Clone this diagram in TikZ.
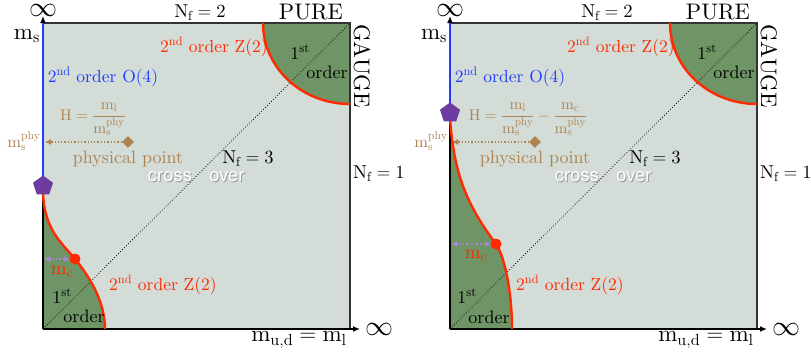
\RequirePackage{fix-cm}
\documentclass[tikz,border=0pt]{standalone}
\usepackage{amsmath}
\usepackage{fontspec}
\setmainfont{lmroman10}[Extension=.otf, UprightFont=*-regular, BoldFont=*-bold, ItalicFont=*-italic, BoldItalicFont=*-bolditalic]
\newfontfamily\crossfont{TeX Gyre Heros}
\usetikzlibrary{shapes.geometric,arrows.meta}
\definecolor{bgc}{HTML}{D3DCD7}
\definecolor{grn}{HTML}{6F9466}
\definecolor{redc}{HTML}{FF2A00}
\definecolor{bluec}{HTML}{1E3CFF}
\definecolor{brn}{HTML}{AE8351}
\definecolor{purp}{HTML}{6E3CA0}
\definecolor{lav}{HTML}{B482E6}
\newcommand{\fsz}[1]{\fontsize{#1}{#1}\selectfont}
\tikzset{
  lbl/.style={inner sep=0pt, font=\fsz{17.5}},
  nfl/.style={inner sep=0pt, font=\fsz{18.6}},
  ordl/.style={inner sep=0pt, font=\fsz{18}},
  bigl/.style={inner sep=0pt, font=\fsz{22.5}},
  axl/.style={inner sep=0pt, font=\fsz{23}},
  infl/.style={inner sep=0pt, font=\fsz{28}},
  redl/.style={lbl, text=redc},
  bluel/.style={lbl, text=bluec},
  brnl/.style={inner sep=0pt, font=\fsz{15.5}, text=brn},
  crossl/.style={inner sep=0pt, font=\fsz{18.5}\crossfont, text=white},
  crossshadow/.style={inner sep=0pt, font=\fsz{18.5}\crossfont, text=black!40},
  axisline/.style={line width=1.4pt, -{Latex[length=7pt,width=6pt]}},
  edgeline/.style={line width=1.2pt, black!80},
  diagline/.style={dotted, line width=0.8pt},
  redline/.style={line width=2.4pt, redc},
  blueline/.style={line width=2.6pt, bluec},
  penta/.style={regular polygon, regular polygon sides=5, fill=purp, minimum size=21pt, inner sep=0pt},
  rdot/.style={circle, fill=redc, minimum size=11pt, inner sep=0pt},
  diam/.style={diamond, fill=brn, minimum size=12pt, inner sep=0pt},
  brnarrow/.style={dotted, line width=1.3pt, brn, -{Latex[length=6pt,width=6pt]}},
  mcarrow/.style={dotted, line width=1.3pt, lav, {Latex[length=5pt,width=6pt]}-{Latex[length=5pt,width=6pt]}},
}
\newcommand{\panelcommon}{%
  \fill[bgc] (43,23) rectangle (350,329);
  \fill[grn] (263,23) .. controls (263,68) and (302,104) .. (350,104) -- (350,23) -- cycle;
  \coordinate (o) at (43,329);
  \coordinate (tl) at (43,23);
  \coordinate (tr) at (350,23);
  \coordinate (br) at (350,329);
  \coordinate (ytip) at (43,16);
  \coordinate (xtip) at (360,329);
  \coordinate (zs) at (263,23);
  \coordinate (ze) at (350,104);
}
\newcommand{\panelfront}{%
  \draw[diagline] (o) -- (tr);
  \draw[edgeline] (tl) -- (tr) -- (br);
  \draw[redline] (zs) .. controls (263,68) and (302,104) .. (ze);
  \draw[axisline] (o) -- (ytip);
  \draw[axisline] (o) -- (xtip);
  \node[infl] (yinf) at (43,10) {$\infty$};
  \node[infl] (xinf) at (379,329) {$\infty$};
  \node[nfl] (nf2) at (200,13) {$\mathrm{N_f = 2}$};
  \node[bigl] (pure) at (311,12) {PURE};
  \node[bigl, rotate=-90] (gauge) at (362,66) {GAUGE};
  \node[axl] (ms) at (27,36) {$\mathrm{m_s}$};
  \node[redl] (z2top) at (214,47) {2$^{\text{nd}}$ order Z(2)};
  \node[ordl] (st1top) at (300,52) {1$^{\text{st}}$};
  \node[ordl] (ordtop) at (327,72) {order};
  \node[nfl] (nf3) at (248,159) {$\mathrm{N_f = 3}$};
  \node[nfl, anchor=west] (nf1) at (353,174) {$\mathrm{N_f = 1}$};
  \node[crossshadow] (crs) at (171,178) {cross};
  \node[crossl] (cr) at (170,177) {cross};
  \node[crossshadow] (ovs) at (228,178) {over};
  \node[crossl] (ov) at (227,177) {over};
  \node[diam] (pp) at (128,142) {};
  \coordinate (ppaxis) at (45,142);
  \draw[brnarrow] (pp) -- (ppaxis);
  \node[brnl, font=\fsz{16.5}] (msphy) at (24,141) {$\mathrm{m_s^{phy}}$};
  \node[brnl, font=\fsz{18}] (ppl) at (128,159) {physical point};
  \node[axl] (mud) at (299,340) {$\mathrm{m_{u,d} = m_l}$};
}
\begin{document}
\begin{tikzpicture}[x=1pt,y=-1pt]
\useasboundingbox (0,0) rectangle (811,356);
% ---------------- left panel ----------------
\begin{scope}[name prefix=L-]
  \panelcommon
  \coordinate (cs) at (43,192);
  \coordinate (cd) at (75,259);
  \coordinate (ce) at (105,329);
  \fill[grn] (cs) .. controls (44,230) and (62,243) .. (cd) .. controls (88,275) and (105,300) .. (ce) -- (o) -- cycle;
  \panelfront
  \coordinate (pt) at (43,186);
  \draw[blueline] (tl) -- (pt);
  \draw[redline] (cs) .. controls (44,230) and (62,243) .. (cd) .. controls (88,275) and (105,300) .. (ce);
  \node[penta] (pent) at (pt) {};
  \node[rdot] (dot) at (cd) {};
  \coordinate (mca) at (45,259);
  \draw[mcarrow] (mca) -- (dot.west);
  \node[bluel] (o4) at (103,77) {2$^{\text{nd}}$ order O(4)};
  \node[brnl] (hf) at (93,119) {$\mathrm{H = \dfrac{m_l}{m_s^{phy}}}$};
  \node[redl, font=\fsz{19}] (mc) at (62,272) {$\mathrm{m_c}$};
  \node[ordl] (st1) at (62,296) {1$^{\text{st}}$};
  \node[ordl] (ord) at (84,316) {order};
  \node[redl] (z2low) at (163,285) {2$^{\text{nd}}$ order Z(2)};
\end{scope}
% ---------------- right panel ----------------
\begin{scope}[shift={(407,0)}, name prefix=R-]
  \panelcommon
  \coordinate (cs) at (43,118);
  \coordinate (cd) at (89,244);
  \coordinate (ce) at (105,329);
  \fill[grn] (cs) .. controls (47,175) and (60,205) .. (cd) .. controls (97,255) and (105,290) .. (ce) -- (o) -- cycle;
  \panelfront
  \coordinate (pt) at (43,113);
  \draw[blueline] (tl) -- (pt);
  \draw[redline] (cs) .. controls (47,175) and (60,205) .. (cd) .. controls (97,255) and (105,290) .. (ce);
  \node[penta] (pent) at (pt) {};
  \node[rdot] (dot) at (cd) {};
  \coordinate (mca) at (45,244);
  \draw[mcarrow] (mca) -- (dot.west);
  \node[bluel] (o4) at (103,77) {2$^{\text{nd}}$ order O(4)};
  \node[brnl] (hf) at (121,119) {$\mathrm{H = \dfrac{m_l}{m_s^{phy}} - \dfrac{m_c}{m_s^{phy}}}$};
  \node[redl, font=\fsz{19}] (mc) at (69,256) {$\mathrm{m_c}$};
  \node[ordl] (st1) at (60,296) {1$^{\text{st}}$};
  \node[ordl] (ord) at (82,317) {order};
  \node[redl] (z2low) at (163,285) {2$^{\text{nd}}$ order Z(2)};
\end{scope}
\end{tikzpicture}
\end{document}
